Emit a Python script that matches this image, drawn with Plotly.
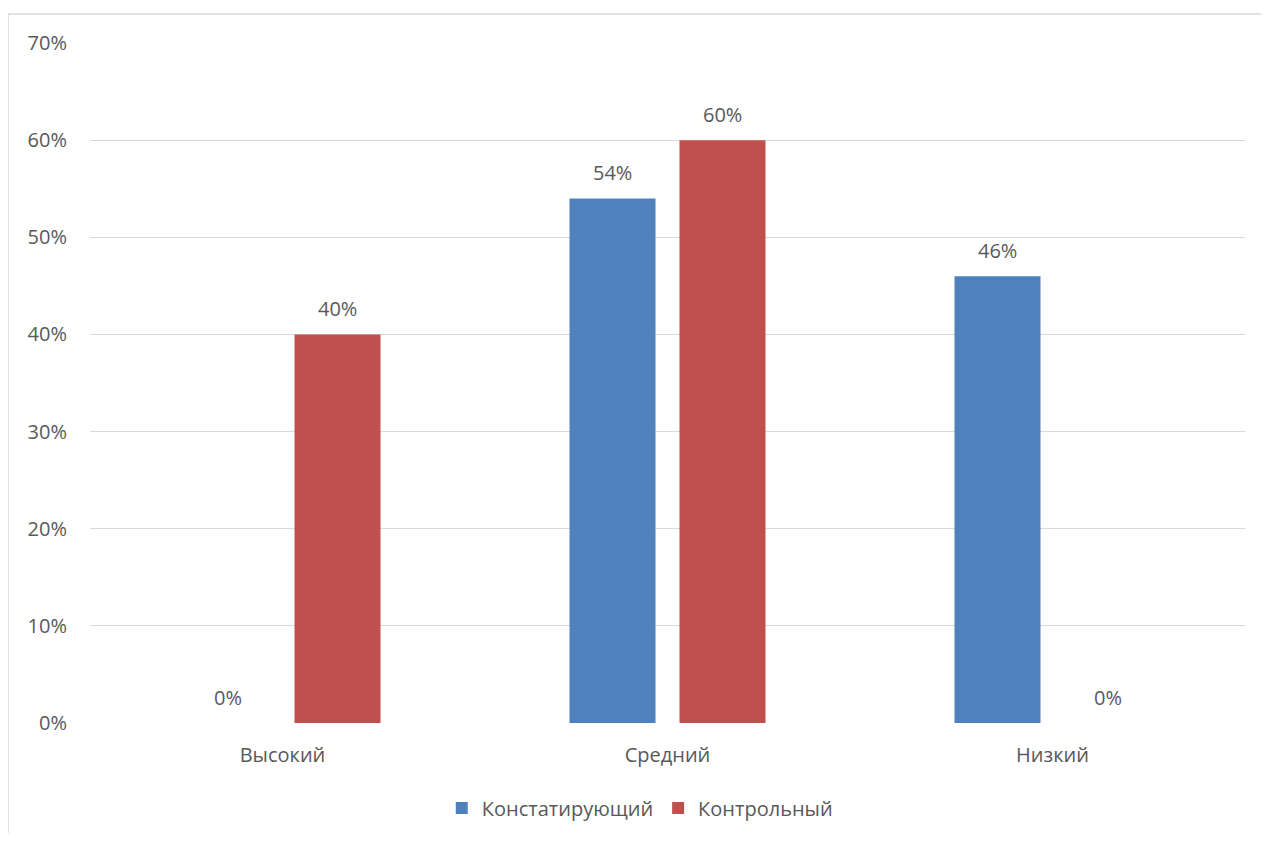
import plotly.graph_objects as go

categories = ["Высокий", "Средний", "Низкий"]
series_names = ["Констатирующий", "Контрольный"]
konst = [0, 54, 46]
kontr = [40, 60, 0]
y_ticks = [0, 10, 20, 30, 40, 50, 60, 70]
y_tick_labels = [f"{v}%" for v in y_ticks]

colors = ["#4f81bd", "#c0504d"]
font_family = "'Open Sans', Lato, sans-serif"
text_color = "#595959"
fs = 20

W, H = 1253, 825
L, R, T, B = 82, 16, 35, 110
pw, ph = W - L - R, H - T - B

fig = go.Figure()
for name, vals, col in zip(series_names, [konst, kontr], colors):
    fig.add_trace(go.Bar(
        x=categories, y=vals, name=name, marker_color=col,
        marker_line_width=0,
    ))

# data labels
annotations = []
for shift, vals in zip([-55, 55], [konst, kontr]):
    for c, v in zip(categories, vals):
        annotations.append(dict(
            x=c, y=v, xref="x", yref="y", text=f"{v}%", showarrow=False,
            xshift=shift, yshift=26, yanchor="middle",
            font=dict(size=fs, color=text_color, family=font_family),
        ))

fig.update_layout(
    width=W, height=H,
    margin=dict(l=L, r=R, t=T, b=B, autoexpand=False),
    paper_bgcolor="white", plot_bgcolor="white",
    barmode="group", bargap=0.4286, bargroupgap=0.218,
    font=dict(family=font_family, size=fs, color=text_color),
    showlegend=True,
    legend=dict(orientation="h", x=0.476, xanchor="center",
                y=-85 / ph, yanchor="middle",
                font=dict(size=fs, color=text_color),
                traceorder="normal"),
    yaxis=dict(range=[0, 70], tickvals=y_ticks, ticktext=y_tick_labels,
               showgrid=True, gridcolor="#d9d9d9", gridwidth=1.3,
               zeroline=False, showline=False, ticks="", ticklabelstandoff=22,
               tickfont=dict(size=fs, color=text_color)),
    xaxis=dict(showgrid=False, showline=False, ticks="", ticklabelstandoff=18,
               tickfont=dict(size=fs, color=text_color)),
    annotations=annotations,
    shapes=[
        dict(type="line", xref="paper", yref="paper",
             x0=-L / pw, x1=1.2, y0=1 + (T - 6) / ph, y1=1 + (T - 6) / ph,
             line=dict(color="#d9d9d9", width=1.5)),
        dict(type="line", xref="paper", yref="paper",
             x0=-L / pw, x1=-L / pw, y0=1 + (T - 6) / ph, y1=-0.3,
             line=dict(color="#d9d9d9", width=1.5)),
    ],
)

fig.write_html("out.html")
